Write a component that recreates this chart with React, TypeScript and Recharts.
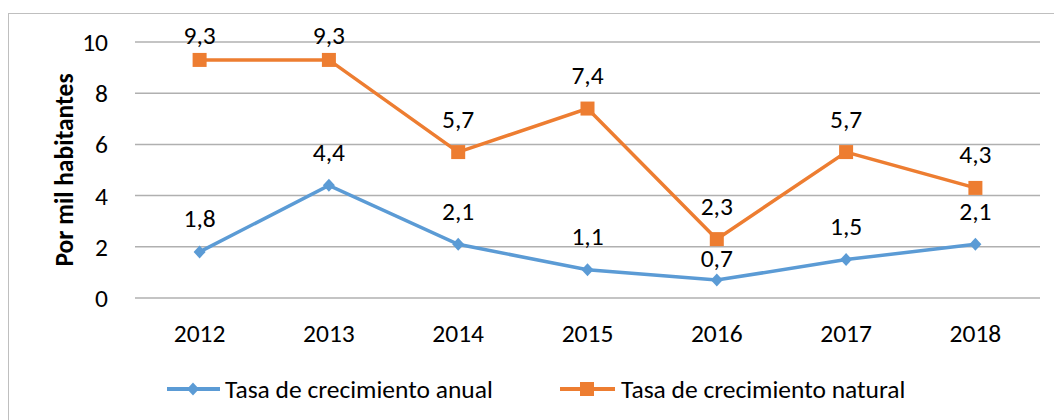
import { CartesianGrid, Legend, Line, LineChart, XAxis, YAxis, LabelList } from "recharts";

const years = ["2012", "2013", "2014", "2015", "2016", "2017", "2018"];
const anual = [1.8, 4.4, 2.1, 1.1, 0.7, 1.5, 2.1];
const natural = [9.3, 9.3, 5.7, 7.4, 2.3, 5.7, 4.3];
const yTicks = [0, 2, 4, 6, 8, 10];

const data = years.map((year, i) => ({ year, anual: anual[i], natural: natural[i] }));

const FONT = "Carlito, Calibri, Lato, sans-serif";
const FS = 25.5;
const BLUE = "#5b9bd5";
const ORANGE = "#ed7d31";

function Diamond(props: any) {
  const { cx, cy } = props;
  if (cx == null || cy == null) return null;
  return <path d={`M${cx},${cy - 6.5} L${cx + 6},${cy} L${cx},${cy + 6.5} L${cx - 6},${cy} Z`} fill={BLUE} />;
}

function Square(props: any) {
  const { cx, cy } = props;
  if (cx == null || cy == null) return null;
  return <rect x={cx - 7} y={cy - 7} width={14} height={14} fill={ORANGE} />;
}

function DataLabel(props: any) {
  const x = props.x ?? props.viewBox?.x;
  const y = props.y ?? props.viewBox?.y;
  if (x == null || y == null) return null;
  // the 0,7 label sits closer to its point so it clears the orange square above it
  const lift = props.tight && props.index === 4 ? 22 : 33;
  return (
    <text
      x={x}
      y={Math.max(y - lift, 35)}
      textAnchor="middle"
      dominantBaseline="central"
      fontFamily={FONT}
      fontSize={FS}
      fill="#000"
    >
      {String(props.value).replace(".", ",")}
    </text>
  );
}

function AxisTitle(props: any) {
  const vb = props.viewBox || {};
  const cx = 64;
  const cy = vb.y + vb.height / 2;
  return (
    <text
      x={cx}
      y={cy}
      transform={`rotate(-90, ${cx}, ${cy})`}
      textAnchor="middle"
      dominantBaseline="central"
      fontFamily={FONT}
      fontSize={FS}
      fontWeight="bold"
      fill="#000"
    >
      Por mil habitantes
    </text>
  );
}

function LegendContent() {
  return (
    <svg width={1054} height={40}>
      <line x1={167} y1={20} x2={220} y2={20} stroke={BLUE} strokeWidth={4} />
      <Diamond cx={193} cy={20} />
      <text x={225} y={20} dominantBaseline="central" fontFamily={FONT} fontSize={FS} fill="#000">
        Tasa de crecimiento anual
      </text>
      <line x1={560} y1={20} x2={615} y2={20} stroke={ORANGE} strokeWidth={4} />
      <Square cx={587} cy={20} />
      <text x={621} y={20} dominantBaseline="central" fontFamily={FONT} fontSize={FS} fill="#000">
        Tasa de crecimiento natural
      </text>
    </svg>
  );
}

export default function App() {
  return (
    <div
      style={{
        position: "fixed",
        left: 0,
        top: 0,
        width: 1054,
        height: 420,
        overflow: "hidden",
        background: "#fff",
      }}
    >
      <div
        style={{
          position: "absolute",
          left: 8,
          top: 13,
          width: 1100,
          height: 500,
          border: "1px solid #bfbfbf",
        }}
      />
      <div style={{ position: "absolute", left: 0, top: 0 }}>
        <LineChart width={1054} height={420} data={data} margin={{ top: 42, right: 14, bottom: 92, left: 0 }}>
          <CartesianGrid vertical={false} stroke="#b0b0b0" strokeWidth={1.5} />
          <XAxis
            dataKey="year"
            height={30}
            padding={{ left: 64.6, right: 64.6 }}
            axisLine={false}
            tickLine={false}
            tickSize={0}
            tickMargin={26}
            tick={{ fill: "#000", fontSize: FS, fontFamily: FONT }}
          />
          <YAxis
            width={135}
            domain={[0, 10]}
            ticks={yTicks}
            axisLine={false}
            tickLine={false}
            tickSize={0}
            tickMargin={27}
            tick={{ fill: "#000", fontSize: FS, fontFamily: FONT }}
            label={<AxisTitle />}
          />
          <Legend
            layout="horizontal"
            verticalAlign="middle"
            content={<LegendContent />}
            wrapperStyle={{ position: "absolute", left: 0, top: 369, width: 1054, height: 40 }}
          />
          <Line
            dataKey="anual"
            name="Tasa de crecimiento anual"
            stroke={BLUE}
            strokeWidth={3.5}
            dot={<Diamond />}
            activeDot={false}
            isAnimationActive={false}
          >
            <LabelList dataKey="anual" content={<DataLabel tight />} />
          </Line>
          <Line
            dataKey="natural"
            name="Tasa de crecimiento natural"
            stroke={ORANGE}
            strokeWidth={3.5}
            dot={<Square />}
            activeDot={false}
            isAnimationActive={false}
          >
            <LabelList dataKey="natural" content={<DataLabel />} />
          </Line>
        </LineChart>
      </div>
    </div>
  );
}
